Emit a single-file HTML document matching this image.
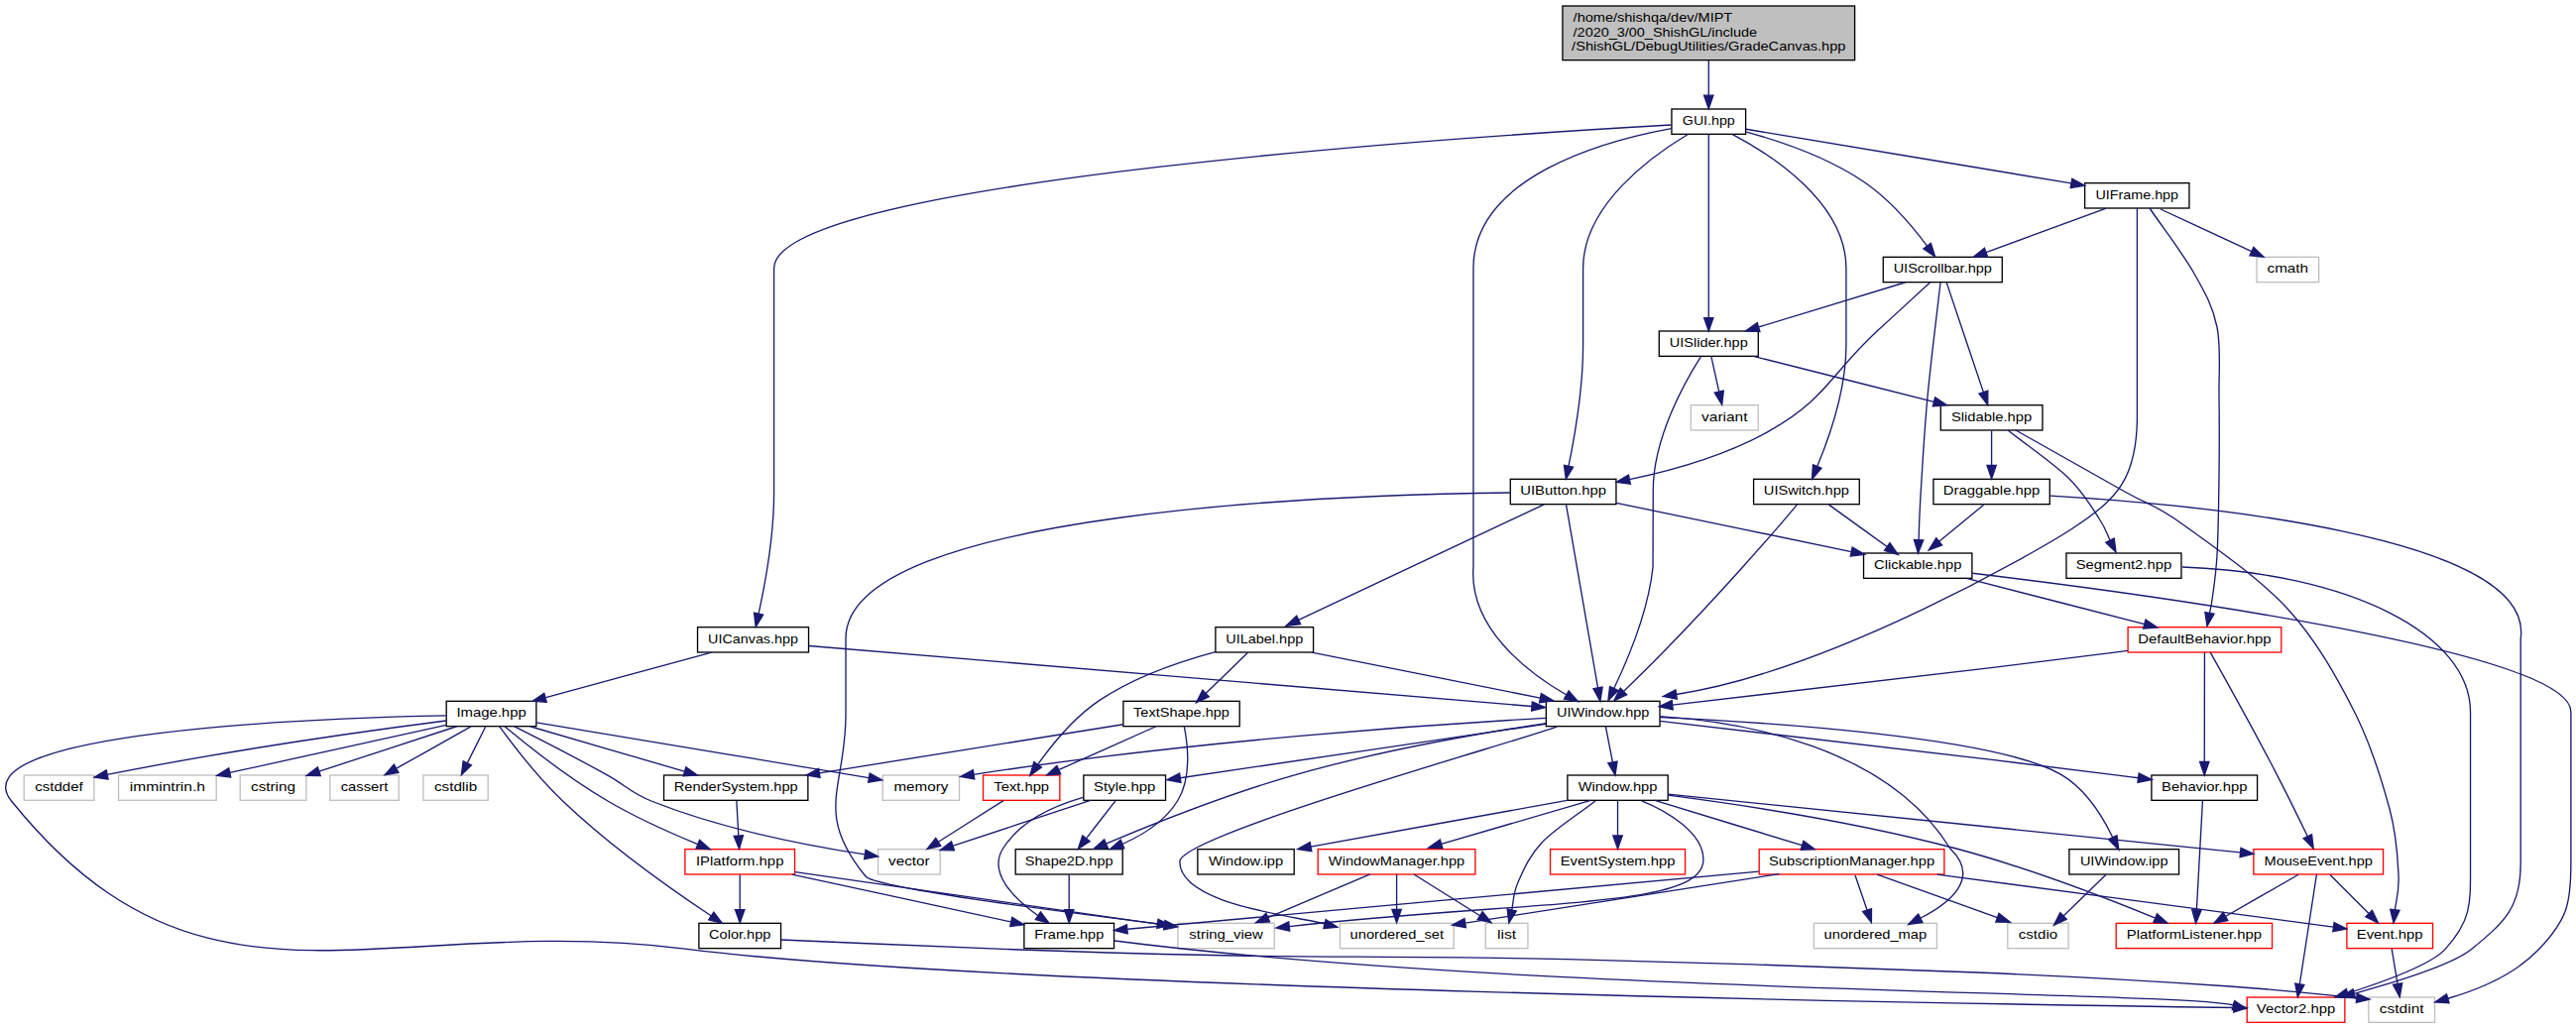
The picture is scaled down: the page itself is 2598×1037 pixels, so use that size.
<!DOCTYPE html>
<html><head><meta charset="utf-8"><style>
html,body{margin:0;padding:0;background:#fff;overflow:hidden;width:2598px;height:1037px}
svg{display:block}
text{font-family:"Liberation Sans",sans-serif;font-size:13.333px;fill:#000;lengthAdjust:spacingAndGlyphs}
path{fill:none;stroke:#191970;stroke-width:1.333}
polygon{fill:#191970;stroke:#191970;stroke-width:1.333}
rect{stroke-width:1.333}
</style></head><body>
<svg width="2598" height="1037" viewBox="0 0 2598 1037">
<rect x="0" y="0" width="2598" height="1037" fill="#fff" stroke="none"/>
<rect x="1575.93" y="6" width="294.67" height="54.67" fill="#bfbfbf" stroke="black"/>
<text x="1586.6" y="22" text-anchor="start" lengthAdjust="spacingAndGlyphs" textLength="160.63">/home/shishqa/dev/MIPT</text>
<text x="1586.6" y="36.67" text-anchor="start" lengthAdjust="spacingAndGlyphs" textLength="185.45">/2020_3/00_ShishGL/include</text>
<text x="1723.27" y="51.33" text-anchor="middle" lengthAdjust="spacingAndGlyphs" textLength="276.28">/ShishGL/DebugUtilities/GradeCanvas.hpp</text>
<rect x="1685.93" y="110" width="74.67" height="25.33" fill="white" stroke="black"/>
<text x="1723.27" y="126" text-anchor="middle" lengthAdjust="spacingAndGlyphs" textLength="52.83">GUI.hpp</text>
<path d="M1723.27,60.67 C1723.27,71.91 1723.27,85.01 1723.27,96.17"/>
<polygon points="1718.6,96.17 1723.27,109.8 1727.93,96.17 1718.6,96.17"/>
<rect x="1523.27" y="483.33" width="106.67" height="25.33" fill="white" stroke="black"/>
<text x="1576.6" y="499.33" text-anchor="middle" lengthAdjust="spacingAndGlyphs" textLength="86.65">UIButton.hpp</text>
<path d="M1702.35,135.47 C1666.37,156.92 1596.6,206.75 1596.6,270.67 1596.6,270.67 1596.6,270.67 1596.6,348 1596.6,391.33 1587.92,441.2 1582,470.21"/>
<polygon points="1577.43,469.28 1579.32,483.36 1586.57,471.15 1577.43,469.28"/>
<rect x="1559.33" y="707.33" width="114.67" height="25.33" fill="white" stroke="black"/>
<text x="1616.67" y="723.33" text-anchor="middle" lengthAdjust="spacingAndGlyphs" textLength="93.24">UIWindow.hpp</text>
<path d="M1685.65,129.57 C1618.73,141.85 1485.93,177.91 1485.93,270.67 1485.93,270.67 1485.93,270.67 1485.93,572 1481.42,633.17 1539.9,677.96 1579.82,701.03"/>
<polygon points="1577.48,705.07 1591.54,707.8 1582.15,696.99 1577.48,705.07"/>
<rect x="703.53" y="632.67" width="112" height="25.33" fill="white" stroke="black"/>
<text x="759.53" y="648.67" text-anchor="middle" lengthAdjust="spacingAndGlyphs" textLength="90.86">UICanvas.hpp</text>
<path d="M1685.4,126.04 C1513.56,135.81 780.57,181.04 780.57,270.67 780.57,270.67 780.57,270.67 780.57,497.33 780.57,540.49 771.41,590.08 765.09,619.12"/>
<polygon points="760.53,618.13 762.21,632.32 769.65,620.11 760.53,618.13"/>
<rect x="1673.27" y="334" width="100" height="25.33" fill="white" stroke="black"/>
<text x="1723.27" y="350" text-anchor="middle" lengthAdjust="spacingAndGlyphs" textLength="78.91">UISlider.hpp</text>
<path d="M1723.27,135.89 C1723.27,170.73 1723.27,273.05 1723.27,320.56"/>
<polygon points="1718.6,320.56 1723.27,333.91 1727.93,320.56 1718.6,320.56"/>
<rect x="1768.6" y="483.33" width="106.67" height="25.33" fill="white" stroke="black"/>
<text x="1821.93" y="499.33" text-anchor="middle" lengthAdjust="spacingAndGlyphs" textLength="86.08">UISwitch.hpp</text>
<path d="M1747.41,135.6 C1787.15,156.57 1861.93,204.79 1861.93,270.67 1861.93,270.67 1861.93,270.67 1861.93,348 1861.93,392.48 1844.6,441.96 1832.75,470.57"/>
<polygon points="1828.43,468.79 1827.5,483.25 1837.06,472.36 1828.43,468.79"/>
<rect x="2102.6" y="184.67" width="105.33" height="25.33" fill="white" stroke="black"/>
<text x="2155.27" y="200.67" text-anchor="middle" lengthAdjust="spacingAndGlyphs" textLength="83.58">UIFrame.hpp</text>
<path d="M1760.84,130.27 C1834.16,142.48 1997.13,169.64 2088.99,184.95"/>
<polygon points="2088.22,189.55 2102.55,187.21 2089.75,180.34 2088.22,189.55"/>
<rect x="1899.27" y="259.33" width="120" height="25.33" fill="white" stroke="black"/>
<text x="1959.27" y="275.33" text-anchor="middle" lengthAdjust="spacingAndGlyphs" textLength="99.24">UIScrollbar.hpp</text>
<path d="M1761.24,133.08 C1794.68,142.28 1843.65,158.79 1880.6,184 1906.17,201.45 1929.17,228.84 1943.6,248.15"/>
<polygon points="1939.86,250.94 1951.59,258.84 1947.34,245.35 1939.86,250.94"/>
<rect x="1879.53" y="558" width="109.33" height="25.33" fill="white" stroke="black"/>
<text x="1934.2" y="574" text-anchor="middle" lengthAdjust="spacingAndGlyphs" textLength="88.35">Clickable.hpp</text>
<path d="M1629.99,507.35 C1691.92,520.19 1799.4,542.47 1867.22,556.53"/>
<polygon points="1866.27,561.1 1880.63,559.32 1868.17,551.96 1866.27,561.1"/>
<path d="M1579.53,509.23 C1585.58,544.07 1603.3,646.39 1611.53,693.89"/>
<polygon points="1606.93,694.69 1613.88,707.44 1616.13,693.1 1606.93,694.69"/>
<rect x="1187.93" y="931.33" width="97.33" height="25.33" fill="white" stroke="#bfbfbf"/>
<text x="1236.6" y="947.33" text-anchor="middle" lengthAdjust="spacingAndGlyphs" textLength="74.51">string_view</text>
<path d="M1523.4,497 C1361.4,499 853,514 853,644 853,644 853,644 853,721 853,795 820,819 873,884 882.5,895.6 1058.3,917.9 1167.4,931.8"/>
<polygon points="1166.8,936.43 1180.6,933.5 1168,927.17 1166.8,936.43"/>
<rect x="1225.9" y="632.67" width="98.67" height="25.33" fill="white" stroke="black"/>
<text x="1275.23" y="648.67" text-anchor="middle" lengthAdjust="spacingAndGlyphs" textLength="78.09">UILabel.hpp</text>
<path d="M1557.24,508.84 C1503.56,534.12 1374.96,594.67 1309.65,625.41"/>
<polygon points="1307.67,621.19 1297.02,631.36 1311.64,629.64 1307.67,621.19"/>
<rect x="2146.1" y="632.67" width="154.67" height="25.33" fill="white" stroke="red"/>
<text x="2223.43" y="648.67" text-anchor="middle" lengthAdjust="spacingAndGlyphs" textLength="134.27">DefaultBehavior.hpp</text>
<path d="M1983.21,583.41 C2031.84,595.92 2109.97,616.01 2162.78,629.6"/>
<polygon points="2161.62,634.12 2175.81,632.95 2163.94,625.08 2161.62,634.12"/>
<rect x="2388.87" y="1006" width="66.67" height="25.33" fill="white" stroke="#bfbfbf"/>
<text x="2422.2" y="1022" text-anchor="middle" lengthAdjust="spacingAndGlyphs" textLength="44.67">cstdint</text>
<path d="M1989.32,578.28 C2147.8,597.2 2595.74,656.23 2592.87,718.67 2592.87,718.67 2592.87,718.67 2592.87,870.67 2592.87,911.73 2589.09,927.52 2560.87,957.33 2536.31,983.27 2498.65,998.59 2468.77,1007.25"/>
<polygon points="2467.47,1002.77 2455.74,1011.03 2470.07,1011.74 2467.47,1002.77"/>
<path d="M2145.9,656.45 C2140.08,657.21 2134.29,657.96 2128.69,658.67 1970.86,678.59 1784.05,700.11 1686.68,711.16"/>
<polygon points="1686.16,706.52 1673.32,712.68 1687.21,715.8 1686.16,706.52"/>
<rect x="2169.9" y="782" width="106.67" height="25.33" fill="white" stroke="black"/>
<text x="2223.23" y="798" text-anchor="middle" lengthAdjust="spacingAndGlyphs" textLength="86.29">Behavior.hpp</text>
<path d="M2223.43,658.17 C2223.4,681.84 2223.31,736.44 2223.25,768.53"/>
<polygon points="2218.59,768.53 2223.23,781.88 2227.92,768.54 2218.59,768.53"/>
<rect x="2272.87" y="856.67" width="130.67" height="25.33" fill="white" stroke="red"/>
<text x="2338.2" y="872.67" text-anchor="middle" lengthAdjust="spacingAndGlyphs" textLength="109.41">MouseEvent.hpp</text>
<path d="M2229.21,658.11 C2242.22,681.24 2272.39,735.25 2296.3,781.33 2307.15,802.25 2318.92,826.31 2327.34,843.76"/>
<polygon points="2323.13,845.79 2333.17,855.86 2331.54,841.73 2323.13,845.79"/>
<rect x="1024.2" y="856.67" width="108" height="25.33" fill="white" stroke="black"/>
<text x="1078.2" y="872.67" text-anchor="middle" lengthAdjust="spacingAndGlyphs" textLength="88.77">Shape2D.hpp</text>
<path d="M1559.27,729.56 C1496.59,739.07 1394.47,756.64 1307.27,781.33 1238.94,800.68 1161.11,831.85 1115.52,851.07"/>
<polygon points="1113.71,846.77 1103.16,856.27 1117.33,855.37 1113.71,846.77"/>
<rect x="1829.37" y="931.33" width="124" height="25.33" fill="white" stroke="#bfbfbf"/>
<text x="1891.37" y="947.33" text-anchor="middle" lengthAdjust="spacingAndGlyphs" textLength="103.54">unordered_map</text>
<path d="M1570.2,733.1 C1530,748 1189.8,843 1189.8,869.1 1189.8,913 1307,923.8 1336,932"/>
<polygon points="1334.88,936.53 1348.9,935.2 1337.12,927.47 1334.88,936.53"/>
<rect x="1351.5" y="931.33" width="114.67" height="25.33" fill="white" stroke="#bfbfbf"/>
<text x="1408.83" y="947.33" text-anchor="middle" lengthAdjust="spacingAndGlyphs" textLength="94.44">unordered_set</text>
<path d="M1674.19,722.69 C1757.14,728.21 1903.35,752.67 1966.84,856 1997.8,885.61 1967.04,910.79 1936.83,926.24"/>
<polygon points="1934.7,922.08 1924.62,932.48 1938.95,930.4 1934.7,922.08"/>
<path d="M1674.12,727.41 C1767.48,737.96 1964.59,760.52 2130.02,781.33 2138.62,782.41 2147.67,783.59 2156.56,784.76"/>
<polygon points="2155.95,789.39 2170.35,786.58 2157.17,780.13 2155.95,789.39"/>
<rect x="1580.87" y="782" width="101.33" height="25.33" fill="white" stroke="black"/>
<text x="1631.53" y="798" text-anchor="middle" lengthAdjust="spacingAndGlyphs" textLength="79.75">Window.hpp</text>
<path d="M1619.4,733 C1621.75,744.97 1624.09,756.94 1626.44,768.92"/>
<polygon points="1621.86,769.81 1629,782 1631.02,768.02 1621.86,769.81"/>
<rect x="890.2" y="782" width="77.33" height="25.33" fill="white" stroke="#bfbfbf"/>
<text x="928.87" y="798" text-anchor="middle" lengthAdjust="spacingAndGlyphs" textLength="54.87">memory</text>
<path d="M1559.31,724.31 C1450.04,730.41 1206.37,746.65 982.1,781.31"/>
<polygon points="981.38,776.69 968.75,783.37 982.81,785.92 981.38,776.69"/>
<rect x="1092.87" y="782" width="82.67" height="25.33" fill="white" stroke="black"/>
<text x="1134.2" y="798" text-anchor="middle" lengthAdjust="spacingAndGlyphs" textLength="62.16">Style.hpp</text>
<path d="M1559,730.31 C1464.44,744.27 1283.35,770.99 1190.29,784.72"/>
<polygon points="1189.61,780.1 1176.85,786.7 1190.97,789.34 1189.61,780.1"/>
<rect x="2086.87" y="856.67" width="110.67" height="25.33" fill="white" stroke="black"/>
<text x="2142.2" y="872.67" text-anchor="middle" lengthAdjust="spacingAndGlyphs" textLength="88.56">UIWindow.ipp</text>
<path d="M1674.15,723.55 C1782.8,728.59 2014.06,743.55 2078.74,781.33 2103.55,795.84 2120.89,824.32 2130.75,844.67"/>
<polygon points="2126.56,846.7 2136.85,857.23 2134.95,842.63 2126.56,846.7"/>
<rect x="1032.87" y="931.33" width="90.67" height="25.33" fill="white" stroke="black"/>
<text x="1078.2" y="947.33" text-anchor="middle" lengthAdjust="spacingAndGlyphs" textLength="70.09">Frame.hpp</text>
<path d="M1078.2,882.56 C1078.2,891.99 1078.2,905.52 1078.2,917.35"/>
<polygon points="1082.87,917.67 1078.2,931 1073.53,917.67 1082.87,917.67"/>
<rect x="2266.2" y="1006" width="98.67" height="25.33" fill="white" stroke="red"/>
<text x="2315.53" y="1022" text-anchor="middle" lengthAdjust="spacingAndGlyphs" textLength="79.38">Vector2.hpp</text>
<path d="M1124,949 C1540,1002 2200,1000 2252.5,1014"/>
<polygon points="2251.31,1018.51 2265.4,1017.4 2253.69,1009.49 2251.31,1018.51"/>
<rect x="2134.2" y="931.33" width="157.33" height="25.33" fill="white" stroke="red"/>
<text x="2212.87" y="947.33" text-anchor="middle" lengthAdjust="spacingAndGlyphs" textLength="136.19">PlatformListener.hpp</text>
<path d="M2221.45,807.51 C2220.15,831.17 2217.14,885.77 2215.37,917.87"/>
<polygon points="2210.71,917.61 2214.62,931.35 2220.03,918.12 2210.71,917.61"/>
<path d="M1682.44,802.16 C1749.67,810.92 1871.41,828.99 1972.87,856 2044.95,875.2 2126.03,906.63 2173.09,925.91"/>
<polygon points="2175.45,921.83 2186,931.23 2171.89,930.45 2175.45,921.83"/>
<rect x="1498.27" y="931.33" width="42.67" height="25.33" fill="white" stroke="#bfbfbf"/>
<text x="1519.6" y="947.33" text-anchor="middle" lengthAdjust="spacingAndGlyphs" textLength="19.29">list</text>
<path d="M1609,808 C1591,822 1568,836.33 1555,850 1542,863.67 1536.05,878.67 1531,890 1525.95,901.33 1526.13,911.7 1524.72,917.99"/>
<polygon points="1520.17,916.97 1521.8,931 1529.27,919.01 1520.17,916.97"/>
<rect x="1563.53" y="856.67" width="136" height="25.33" fill="white" stroke="red"/>
<text x="1631.53" y="872.67" text-anchor="middle" lengthAdjust="spacingAndGlyphs" textLength="115.77">EventSystem.hpp</text>
<path d="M1631.53,807.89 C1631.53,817.32 1631.53,830.85 1631.53,842.68"/>
<polygon points="1636.2,843 1631.53,856.33 1626.87,843 1636.2,843"/>
<rect x="1774.2" y="856.67" width="186.67" height="25.33" fill="white" stroke="red"/>
<text x="1867.53" y="872.67" text-anchor="middle" lengthAdjust="spacingAndGlyphs" textLength="167.14">SubscriptionManager.hpp</text>
<path d="M1668.92,807.41 C1708.97,819.63 1772.75,839.08 1817.19,852.64"/>
<polygon points="1818.92,848.29 1830.31,856.64 1816.2,857.21 1818.92,848.29"/>
<path d="M1682.35,801.17 C1804.07,813.57 2112.99,845.05 2259.19,859.95"/>
<polygon points="2260.03,855.35 2272.81,861.33 2259.08,864.63 2260.03,855.35"/>
<rect x="1329.2" y="856.67" width="158.67" height="25.33" fill="white" stroke="red"/>
<text x="1408.53" y="872.67" text-anchor="middle" lengthAdjust="spacingAndGlyphs" textLength="137.32">WindowManager.hpp</text>
<path d="M1604.28,807.41 C1563.71,819.25 1499.79,837.92 1453.62,851.4"/>
<polygon points="1452.31,846.92 1440.58,855.21 1454.92,855.88 1452.31,846.92"/>
<path d="M1655.7,807.8 C1681,818 1717.9,840 1717.9,867 1717.9,917 1550,907 1300.25,934.54"/>
<polygon points="1299.74,929.9 1287,936 1300.76,939.18 1299.74,929.9"/>
<rect x="1207.87" y="856.67" width="97.33" height="25.33" fill="white" stroke="black"/>
<text x="1256.53" y="872.67" text-anchor="middle" lengthAdjust="spacingAndGlyphs" textLength="75.08">Window.ipp</text>
<path d="M1580.55,807.33 C1510.58,820 1397.24,840.51 1322.01,854.12"/>
<polygon points="1321.18,849.53 1308.56,856.55 1322.84,858.71 1321.18,849.53"/>
<path d="M1773.88,879.21 C1609.41,894.21 1273.23,924.88 1137.24,937.28"/>
<polygon points="1137.28,941.96 1123.57,938.53 1136.43,932.67 1137.28,941.96"/>
<path d="M1794.5,881.6 C1688.89,898.11 1583.28,914.63 1477.67,931.14"/>
<polygon points="1476.95,926.53 1464.5,933.2 1478.39,935.75 1476.95,926.53"/>
<path d="M1871,883 C1875.02,894.7 1879.04,906.39 1883.06,918.09"/>
<polygon points="1878.65,919.61 1887.4,930.7 1887.48,916.57 1878.65,919.61"/>
<rect x="2366.87" y="931.33" width="86.67" height="25.33" fill="white" stroke="red"/>
<text x="2410.2" y="947.33" text-anchor="middle" lengthAdjust="spacingAndGlyphs" textLength="66.8">Event.hpp</text>
<path d="M1953.52,882.08 C2065.47,896.93 2258.04,922.48 2353.36,935.12"/>
<polygon points="2354.09,930.52 2366.69,936.89 2352.85,939.76 2354.09,930.52"/>
<rect x="2024.8" y="931.33" width="61.33" height="25.33" fill="white" stroke="#bfbfbf"/>
<text x="2055.47" y="947.33" text-anchor="middle" lengthAdjust="spacingAndGlyphs" textLength="39.23">cstdio</text>
<path d="M1893.09,882.08 C1925.75,893.81 1977.01,912.25 2014.43,925.71"/>
<polygon points="2012.85,930.1 2027.38,930.36 2016.01,921.31 2012.85,930.1"/>
<path d="M2412.17,957.23 C2413.77,966.76 2416.05,980.48 2418.04,992.41"/>
<polygon points="2422.67,991.75 2420.25,1005.67 2413.45,993.28 2422.67,991.75"/>
<path d="M2336.41,882.17 C2332.76,905.84 2324.32,960.44 2319.36,992.53"/>
<polygon points="2323.95,993.41 2317.31,1005.88 2314.72,991.99 2323.95,993.41"/>
<path d="M2318.07,882.24 C2298.33,893.57 2267.93,911.03 2244.89,924.27"/>
<polygon points="2246.84,928.53 2232.95,931.13 2242.19,920.44 2246.84,928.53"/>
<path d="M2350.09,882.56 C2360.57,893.04 2376.11,908.57 2388.76,921.23"/>
<polygon points="2392.4,918.27 2398.53,931 2385.8,924.87 2392.4,918.27"/>
<path d="M1408.6,882 C1408.6,893.82 1408.6,905.64 1408.6,917.47"/>
<polygon points="1403.93,917.47 1408.6,930.8 1413.27,917.47 1403.93,917.47"/>
<path d="M1426,882 C1448.23,895.91 1470.46,909.82 1492.7,923.73"/>
<polygon points="1490.22,927.68 1504,930.8 1495.17,919.77 1490.22,927.68"/>
<path d="M1381.8,881.9 C1347.46,896.46 1313.12,911.03 1278.77,925.59"/>
<polygon points="1276.95,921.3 1266.5,930.8 1280.6,929.89 1276.95,921.3"/>
<path d="M1124.95,807.89 C1116.96,818.16 1105.2,833.29 1095.47,845.8"/>
<polygon points="1099.15,848.67 1087.28,856.33 1091.77,842.95 1099.15,848.67"/>
<path d="M1092.29,804.45 C1064.15,812.53 1029.11,827.84 1011.53,856 996.24,880.49 1022.67,906.48 1046.61,923.53"/>
<polygon points="1049.51,919.85 1057.99,931.15 1044.31,927.6 1049.51,919.85"/>
<rect x="885.53" y="856.67" width="62.67" height="25.33" fill="white" stroke="#bfbfbf"/>
<text x="916.87" y="872.67" text-anchor="middle" lengthAdjust="spacingAndGlyphs" textLength="41.66">vector</text>
<path d="M1099.76,807.41 C1062.33,819.8 1002.41,839.65 961.43,853.24"/>
<polygon points="962.44,857.81 948.32,857.57 959.51,848.96 962.44,857.81"/>
<path d="M2123.99,882.24 C2112.41,893.47 2094.66,910.71 2081.07,923.91"/>
<polygon points="2077.82,920.56 2071.4,933.29 2084.32,927.25 2077.82,920.56"/>
<path d="M1322.98,658.08 C1385.39,670.56 1485.55,690.59 1553.46,704.17"/>
<polygon points="1552.55,708.75 1566.7,706.82 1554.38,699.6 1552.55,708.75"/>
<rect x="1132.87" y="707.33" width="117.33" height="25.33" fill="white" stroke="black"/>
<text x="1191.53" y="723.33" text-anchor="middle" lengthAdjust="spacingAndGlyphs" textLength="96.86">TextShape.hpp</text>
<path d="M1258.53,658.24 C1247.06,669.36 1229.55,686.39 1216.02,699.53"/>
<polygon points="1212.77,696.19 1206.45,708.84 1219.27,702.88 1212.77,696.19"/>
<rect x="991.53" y="782" width="77.33" height="25.33" fill="white" stroke="red"/>
<text x="1030.2" y="798" text-anchor="middle" lengthAdjust="spacingAndGlyphs" textLength="55.74">Text.hpp</text>
<path d="M1225.69,657.57 C1190.83,667.01 1143.74,682.91 1108.6,706.67 1082.84,724.08 1060.43,751.85 1046.64,771.25"/>
<polygon points="1042.84,768.55 1038.8,782.3 1050.45,773.96 1042.84,768.55"/>
<path d="M1194.36,733.04 C1197.93,750.75 1202.04,784.73 1187.53,808 1175.01,828.08 1153.24,841.96 1132.41,851.25"/>
<polygon points="1133.77,855.75 1119.67,856.48 1130.24,847.11 1133.77,855.75"/>
<rect x="669.53" y="782" width="145.33" height="25.33" fill="white" stroke="black"/>
<text x="742.2" y="798" text-anchor="middle" lengthAdjust="spacingAndGlyphs" textLength="124.91">RenderSystem.hpp</text>
<path d="M1132.79,730.75 C1054.61,743.27 915.88,765.51 826.53,779.83"/>
<polygon points="827.08,784.45 813.17,781.96 825.6,775.24 827.08,784.45"/>
<path d="M1165.97,732.75 C1139.65,744.48 1098.35,762.92 1068.21,776.37"/>
<polygon points="1069.72,780.8 1055.64,781.97 1065.92,772.28 1069.72,780.8"/>
<rect x="690.87" y="856.67" width="110.67" height="25.33" fill="white" stroke="red"/>
<text x="746.2" y="872.67" text-anchor="middle" lengthAdjust="spacingAndGlyphs" textLength="88.43">IPlatform.hpp</text>
<path d="M742.85,807.89 C743.39,817.32 744.13,830.85 744.79,842.68"/>
<polygon points="749.47,842.76 745.55,856.33 740.15,843.28 749.47,842.76"/>
<path d="M798.8,882.08 C858.93,895.12 957.09,916.4 1019.61,929.96"/>
<polygon points="1020.73,925.43 1032.77,932.81 1018.76,934.55 1020.73,925.43"/>
<path d="M802,879.7 C926.1,897.5 1050.2,915.3 1174.3,933.11"/>
<polygon points="1173.64,937.73 1187.5,935 1174.96,928.49 1173.64,937.73"/>
<rect x="704.87" y="931.33" width="82.67" height="25.33" fill="white" stroke="black"/>
<text x="746.2" y="947.33" text-anchor="middle" lengthAdjust="spacingAndGlyphs" textLength="62.26">Color.hpp</text>
<path d="M746.2,882.56 C746.2,891.99 746.2,905.52 746.2,917.35"/>
<polygon points="750.87,917.67 746.2,931 741.53,917.67 750.87,917.67"/>
<path d="M788,948 C868,951.33 951.67,955.33 1028,958 1104.33,960.67 1154,962.4 1246,964 1338,965.6 1455.33,964.77 1580,967.6 1704.67,970.43 1882.5,976.43 1994,981 2105.5,985.57 2185.21,990.7 2249,995 2312.79,999.3 2353.78,1004.66 2376.72,1006.78"/>
<polygon points="2376.29,1011.42 2390,1008 2377.15,1002.13 2376.29,1011.42"/>
<path d="M1011.99,807.57 C994.31,818.8 967.17,836.04 946.4,849.24"/>
<polygon points="948.79,853.25 935.03,856.47 943.79,845.37 948.79,853.25"/>
<path d="M815.77,651.51 C967.49,664.2 1377.09,698.48 1544.96,712.53"/>
<polygon points="1544.57,717.18 1558.64,713.68 1545.35,707.88 1544.57,717.18"/>
<rect x="450.2" y="707.33" width="90.67" height="25.33" fill="white" stroke="black"/>
<text x="495.53" y="723.33" text-anchor="middle" lengthAdjust="spacingAndGlyphs" textLength="70.31">Image.hpp</text>
<path d="M717.71,658.08 C672.52,670.4 600.33,690.08 550.57,703.65"/>
<polygon points="551.25,708.31 537.17,707.31 548.8,699.31 551.25,708.31"/>
<path d="M449.76,721.93 C318.76,724.52 -44.79,738 11.53,808 205.85,1049.53 385.33,918.27 692.87,957.33 1002.83,996.71 1992.65,1012.88 2252.55,1016.51"/>
<polygon points="2252.87,1011.85 2266.13,1016.69 2252.75,1021.17 2252.87,1011.85"/>
<path d="M541.09,728.91 C621.99,742.35 790.25,770.31 876.07,784.56"/>
<polygon points="877.21,780.03 889.6,786.81 875.68,789.23 877.21,780.03"/>
<path d="M518.4,732.69 C541.93,744.51 579.57,763.69 611.53,781.33 632,792.63 635.15,799.35 656.87,808 729.55,836.97 819.51,853.83 872.31,861.95"/>
<polygon points="873.03,857.35 885.52,863.92 871.65,866.57 873.03,857.35"/>
<path d="M534.61,732.75 C576.65,745.01 643.71,764.59 690.17,778.15"/>
<polygon points="691.8,773.76 703.29,781.97 689.19,782.72 691.8,773.76"/>
<path d="M508.96,732.75 C530.09,750.36 572.87,784.59 612.87,808 642.04,825.08 676.96,840.63 703.73,851.61"/>
<polygon points="705.55,847.32 716.17,856.63 702.05,855.97 705.55,847.32"/>
<path d="M503.64,732.71 C516.24,749.99 541.77,783.43 567.53,808 616.01,854.24 680.28,899.31 717.05,923.79"/>
<polygon points="719.84,920.04 728.4,931.28 714.71,927.83 719.84,920.04"/>
<rect x="24.2" y="782" width="70.67" height="25.33" fill="white" stroke="#bfbfbf"/>
<text x="59.53" y="798" text-anchor="middle" lengthAdjust="spacingAndGlyphs" textLength="48.59">cstddef</text>
<path d="M449.89,727.01 C379.47,736.08 239.84,755.23 108.21,781.41"/>
<polygon points="109.09,786 95.09,784.05 107.25,776.85 109.09,786"/>
<rect x="119.53" y="782" width="98.67" height="25.33" fill="white" stroke="#bfbfbf"/>
<text x="168.87" y="798" text-anchor="middle" lengthAdjust="spacingAndGlyphs" textLength="76.22">immintrin.h</text>
<path d="M450.11,731.35 C393.32,743.87 295.8,765.36 231.83,779.45"/>
<polygon points="232.73,784.04 218.71,782.35 230.73,774.92 232.73,784.04"/>
<rect x="242.2" y="782" width="66.67" height="25.33" fill="white" stroke="#bfbfbf"/>
<text x="275.53" y="798" text-anchor="middle" lengthAdjust="spacingAndGlyphs" textLength="44.92">cstring</text>
<path d="M460.67,732.75 C423.17,745.01 363.36,764.59 321.91,778.16"/>
<polygon points="323.27,782.63 309.15,782.33 320.36,773.75 323.27,782.63"/>
<rect x="332.87" y="782" width="69.33" height="25.33" fill="white" stroke="#bfbfbf"/>
<text x="367.53" y="798" text-anchor="middle" lengthAdjust="spacingAndGlyphs" textLength="47.58">cassert</text>
<path d="M474.96,732.91 C454.81,744.24 423.77,761.69 400.24,774.93"/>
<polygon points="401.96,779.32 388.04,781.8 397.37,771.19 401.96,779.32"/>
<rect x="426.87" y="782" width="65.33" height="25.33" fill="white" stroke="#bfbfbf"/>
<text x="459.53" y="798" text-anchor="middle" lengthAdjust="spacingAndGlyphs" textLength="43.18">cstdlib</text>
<path d="M489.59,733.23 C484.65,743.08 477.51,757.4 471.4,769.59"/>
<polygon points="475.51,771.83 465.36,781.67 467.16,767.65 475.51,771.83"/>
<path d="M1715.48,359.59 C1700.09,383.65 1667.27,441.24 1667.27,494.67 1667.27,494.67 1667.27,494.67 1667.05,572 1662.35,616.19 1641.47,665.76 1627.75,694.48"/>
<polygon points="1623.53,692.47 1621.9,706.71 1631.96,696.49 1623.53,692.47"/>
<rect x="1957.27" y="408.67" width="102.67" height="25.33" fill="white" stroke="black"/>
<text x="2008.6" y="424.67" text-anchor="middle" lengthAdjust="spacingAndGlyphs" textLength="81.26">Slidable.hpp</text>
<path d="M1768.48,359.41 C1817.73,371.84 1896.67,391.76 1950.49,405.33"/>
<polygon points="1949.35,409.86 1963.6,408.64 1951.63,400.81 1949.35,409.86"/>
<rect x="1705.27" y="408.67" width="68" height="25.33" fill="white" stroke="#bfbfbf"/>
<text x="1739.27" y="424.67" text-anchor="middle" lengthAdjust="spacingAndGlyphs" textLength="46.39">variant</text>
<path d="M1725.91,359.89 C1728.03,369.43 1731.08,383.15 1733.73,395.08"/>
<polygon points="1729.18,396.09 1736.68,408.33 1738.29,394.07 1729.18,396.09"/>
<path d="M2033,434 C2069.67,454.67 2115.17,480.33 2143,496 2170.83,511.67 2172.67,508.33 2200,528 2227.33,547.67 2278,582.5 2307,614 2336,645.5 2356.83,683.33 2374,717 2391.17,750.67 2402.5,788.33 2410,816 2417.5,843.67 2418.1,866.04 2419,883 2419.9,899.96 2416.16,910.29 2415.38,917.74"/>
<polygon points="2410.74,917.26 2414,931 2420.02,918.22 2410.74,917.26"/>
<rect x="1949.93" y="483.33" width="117.33" height="25.33" fill="white" stroke="black"/>
<text x="2008.6" y="499.33" text-anchor="middle" lengthAdjust="spacingAndGlyphs" textLength="97.52">Draggable.hpp</text>
<path d="M2008.6,434.56 C2008.6,443.99 2008.6,457.52 2008.6,469.35"/>
<polygon points="2003.93,469.35 2008.6,483 2013.27,469.35 2003.93,469.35"/>
<rect x="2083.97" y="558" width="116" height="25.33" fill="white" stroke="black"/>
<text x="2141.97" y="574" text-anchor="middle" lengthAdjust="spacingAndGlyphs" textLength="96.63">Segment2.hpp</text>
<path d="M2025,434 C2045.33,450 2070.67,467.17 2086,482 2101.33,496.83 2109.99,512.49 2117,523 2124.01,533.51 2125.45,539.9 2128.04,545.07"/>
<polygon points="2123.86,547.16 2134,557 2132.21,542.99 2123.86,547.16"/>
<path d="M2000.67,509.23 C1988.47,519.29 1970.64,534.01 1955.68,546.36"/>
<polygon points="1952.71,542.76 1945.2,555.01 1958.65,549.96 1952.71,542.76"/>
<path d="M2067.77,500.08 C2209.15,508.43 2557.09,539.73 2542.2,644 2542.2,644 2542.2,644 2542.2,870.67 2542.2,914.99 2527.05,929.13 2492.87,957.33 2474.4,972.56 2418.49,990.12 2374.33,1002.29"/>
<polygon points="2373.09,997.79 2361.08,1005.95 2375.57,1006.79 2373.09,997.79"/>
<path d="M2201,572 C2370,578 2492,640 2491.53,718.67 2491.53,718.67 2491.53,718.67 2491.53,870.67 2491.53,910.8 2493.2,927.65 2466.2,957.33 2452.43,972.47 2405.72,989.76 2367.92,1001.88"/>
<polygon points="2369.11,1006.4 2354.99,1005.95 2366.31,997.49 2369.11,1006.4"/>
<path d="M1844.21,508.91 C1860.14,520.4 1884.79,538.19 1903.24,551.48"/>
<polygon points="1900.51,555.27 1914.35,559.48 1905.97,547.69 1900.51,555.27"/>
<path d="M1812.52,508.8 C1790.63,535.41 1730.93,603.29 1676.5,658.67 1663.72,671.68 1649.16,686.01 1637.46,697.4"/>
<polygon points="1634.21,694.06 1627.83,706.79 1640.72,700.74 1634.21,694.06"/>
<path d="M2168,210 C2183,232 2201.67,256 2213,276 2224.33,296 2231.83,309.33 2236,330 2240.17,350.67 2237.67,375 2238,400 2238.33,425 2238.33,453.33 2238,480 2237.67,506.67 2237.17,539.17 2236,560 2234.83,580.83 2232.25,595.27 2231,605 2229.75,614.73 2229.2,614.53 2228.47,618.4"/>
<polygon points="2223.89,617.53 2226,631.5 2233.06,619.26 2223.89,617.53"/>
<path d="M2155.4,210 C2155.4,280 2155.4,350 2155.4,420 2155.4,482 2135.8,503.6 2088.8,534 2059.4,553 1850,676 1690.6,700.5"/>
<polygon points="1689.9,695.89 1677.4,702.5 1691.3,705.11 1689.9,695.89"/>
<rect x="2275.97" y="259.33" width="62.67" height="25.33" fill="white" stroke="#bfbfbf"/>
<text x="2307.3" y="275.33" text-anchor="middle" lengthAdjust="spacingAndGlyphs" textLength="41.53">cmath</text>
<path d="M2179,211 C2209.63,225.2 2240.27,239.4 2270.9,253.59"/>
<polygon points="2268.94,257.83 2283,259.2 2272.87,249.36 2268.94,257.83"/>
<path d="M2124.21,210.08 C2091.52,222.08 2039.8,241.08 2003,254.6"/>
<polygon points="2001.39,250.22 1990.18,259.31 2004.61,258.98 2001.39,250.22"/>
<path d="M1946.72,284.81 C1933.56,296.88 1912.27,316.41 1893.93,333.33 1845.24,378.25 1842.28,402.08 1784.6,434.67 1740.75,459.44 1685.81,474.71 1643.41,483.65"/>
<polygon points="1642.45,479.09 1630.14,486.45 1644.38,488.22 1642.45,479.09"/>
<path d="M1957,285 C1952.67,323.33 1947.33,364.17 1944,400 1940.67,435.83 1938.49,475.89 1937,500 1935.51,524.11 1935.47,535.57 1935.07,544.68"/>
<polygon points="1930.41,544.48 1934.5,558 1939.74,544.88 1930.41,544.48"/>
<path d="M1921.87,284.75 C1881.83,296.96 1818.05,316.41 1773.61,329.97"/>
<polygon points="1772.25,325.51 1760.48,333.98 1774.98,334.44 1772.25,325.51"/>
<path d="M1963.13,284.84 C1971.13,308.61 1989.63,363.6 2000.4,395.64"/>
<polygon points="1995.98,397.13 2004.74,408.55 2004.82,394.15 1995.98,397.13"/>
</svg>
</body></html>
